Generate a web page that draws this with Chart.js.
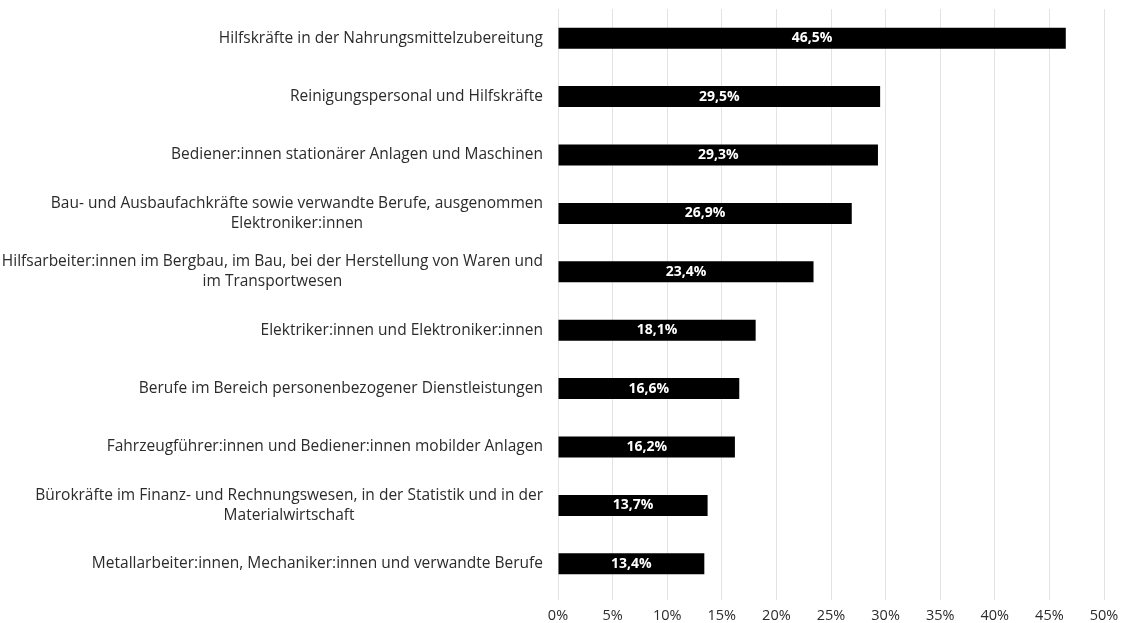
<!DOCTYPE html>
<html>
<head>
<meta charset="utf-8">
<script src="https://cdn.jsdelivr.net/npm/chart.js@4"></script>
<style>
  html, body { margin: 0; padding: 0; background: #fff; }
  #wrap { width: 1123px; height: 623px; }
</style>
</head>
<body>
<div id="wrap"><canvas id="chart"></canvas></div>
<script>
// Berufsgruppen (Zeilen, mehrzeilig wie im Original)
const categories = [
    ['Hilfskräfte in der Nahrungsmittelzubereitung'],
    ['Reinigungspersonal und Hilfskräfte'],
    ['Bediener:innen stationärer Anlagen und Maschinen'],
    ['Bau- und Ausbaufachkräfte sowie verwandte Berufe, ausgenommen', 'Elektroniker:innen'],
    ['Hilfsarbeiter:innen im Bergbau, im Bau, bei der Herstellung von Waren und', 'im Transportwesen'],
    ['Elektriker:innen und Elektroniker:innen'],
    ['Berufe im Bereich personenbezogener Dienstleistungen'],
    ['Fahrzeugführer:innen und Bediener:innen mobilder Anlagen'],
    ['Bürokräfte im Finanz- und Rechnungswesen, in der Statistik und in der', 'Materialwirtschaft'],
    ['Metallarbeiter:innen, Mechaniker:innen und verwandte Berufe']
];
const values = [46.5, 29.5, 29.3, 26.9, 23.4, 18.1, 16.6, 16.2, 13.7, 13.4];
const xMin = 0;
const xMax = 50;
const xStep = 5;

const FONT = '"Open Sans", sans-serif';

// eigene Beschriftung der Kategorien: rechtsbündig, Zeilen untereinander zentriert
const categoryLabels = {
    id: 'categoryLabels',
    afterDraw(chart) {
        const ctx = chart.ctx;
        const y = chart.scales.y;
        const right = chart.chartArea.left - 15;
        const lineH = 20;
        ctx.save();
        ctx.font = '15.5px ' + FONT;
        ctx.fillStyle = '#2b2b2b';
        ctx.textAlign = 'center';
        ctx.textBaseline = 'middle';
        categories.forEach((lines, i) => {
            const cy = y.getPixelForValue(i);
            const w = Math.max(...lines.map(l => ctx.measureText(l).width));
            const cx = right - w / 2;
            const top = cy - (lines.length - 1) * lineH / 2;
            lines.forEach((l, j) => ctx.fillText(l, cx, top + j * lineH));
        });
        ctx.restore();
    }
};

// Werte in den Balken
const barValues = {
    id: 'barValues',
    afterDatasetsDraw(chart) {
        const ctx = chart.ctx;
        const meta = chart.getDatasetMeta(0);
        ctx.save();
        ctx.font = 'bold 14px ' + FONT;
        ctx.fillStyle = '#fff';
        ctx.textAlign = 'center';
        ctx.textBaseline = 'middle';
        meta.data.forEach((bar, i) => {
            const cx = (bar.base + bar.x) / 2;
            ctx.fillText(values[i].toFixed(1).replace('.', ',') + '%', cx, bar.y);
        });
        ctx.restore();
    }
};

new Chart(document.getElementById('chart'), {
    type: 'bar',
    data: {
        labels: categories.map(c => c.join(' ')),
        datasets: [{
            data: values,
            backgroundColor: '#000',
            borderWidth: 0,
            barPercentage: 0.36,
            categoryPercentage: 1.0
        }]
    },
    options: {
        indexAxis: 'y',
        responsive: true,
        maintainAspectRatio: false,
        animation: false,
        layout: { padding: { top: 9, right: 19, bottom: 0, left: 0 } },
        plugins: {
            legend: { display: false },
            tooltip: { enabled: false }
        },
        scales: {
            x: {
                min: xMin,
                max: xMax,
                border: { display: false },
                grid: { color: '#e3e3e3', lineWidth: 1, tickLength: 7 },
                ticks: {
                    stepSize: xStep,
                    color: '#2b2b2b',
                    font: { family: FONT, size: 14.5 },
                    padding: 7,
                    callback: v => v + '%'
                },
                afterFit(scale) {
                    scale.height = 30;
                    scale.paddingLeft = 0;
                    scale.paddingRight = 0;
                }
            },
            y: {
                border: { display: false },
                grid: { display: false },
                ticks: { display: false },
                afterFit(scale) { scale.width = 558; }
            }
        }
    },
    plugins: [categoryLabels, barValues]
});
</script>
</body>
</html>
